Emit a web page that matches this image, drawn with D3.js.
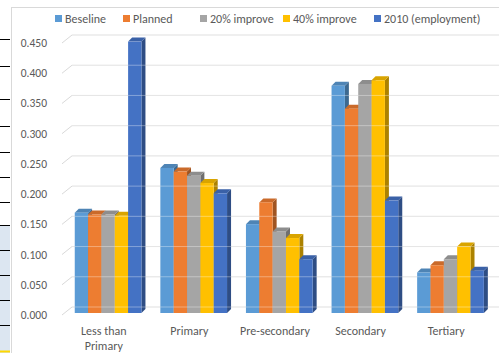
<!DOCTYPE html>
<html>
<head>
<meta charset="utf-8">
<script src="https://cdn.jsdelivr.net/npm/d3@7"></script>
<style>
  body { margin: 0; background: #fff; }
  svg { display: block; font-family: Calibri, Carlito, Lato, sans-serif; }
</style>
</head>
<body>
<svg id="chart" width="499" height="353"></svg>
<script>
var categories = ['Less than Primary', 'Primary', 'Pre-secondary', 'Secondary', 'Tertiary'];
var series_names = ['Beseline', 'Planned', '20% improve', '40% improve', '2010 (employment)'];
var series_colors = ['#5b9bd5', '#ed7d31', '#a5a5a5', '#ffc000', '#4472c4'];

var baseline    = [0.166, 0.240, 0.147, 0.376, 0.067];
var planned     = [0.163, 0.234, 0.183, 0.338, 0.079];
var improve_20  = [0.163, 0.227, 0.135, 0.379, 0.089];
var improve_40  = [0.161, 0.215, 0.124, 0.385, 0.110];
var employment  = [0.449, 0.198, 0.089, 0.186, 0.070];

var y_ticks = [0, 0.05, 0.1, 0.15, 0.2, 0.25, 0.3, 0.35, 0.4, 0.45];
var series_values = [baseline, planned, improve_20, improve_40, employment];

var svg = d3.select('#chart');

// bit of the spreadsheet showing at the left edge
var sheet = svg.append('g');
sheet.append('rect').attr('x', 0).attr('y', 225).attr('width', 10).attr('height', 128).attr('fill', '#dce6f1');
[39, 66, 99, 126, 152, 177, 202, 225, 250, 275, 300, 325].forEach(function(y) {
    sheet.append('line').attr('x1', 0).attr('x2', 10).attr('y1', y + 0.5).attr('y2', y + 0.5)
        .attr('stroke', '#000').attr('stroke-width', 1);
});
sheet.append('line').attr('x1', 0).attr('x2', 10).attr('y1', 351.5).attr('y2', 351.5)
    .attr('stroke', '#ffd800').attr('stroke-width', 2);

// chart area
svg.append('rect').attr('x', 11.5).attr('y', 7.5).attr('width', 520).attr('height', 380)
    .attr('fill', '#fff').attr('stroke', '#d9d9d9');

var depth_x = 10, depth_y = 8;      // floor depth
var bar_dx = 4, bar_dy = 4;         // bar side / top depth
var front_y0 = 315;                 // front edge of floor
var bar_y0 = 313;                   // bar front faces sit a little behind

var y = d3.scaleLinear().domain([0, 0.45]).range([front_y0, front_y0 - 272]);
var bar_y = d3.scaleLinear().domain([0, 0.45]).range([bar_y0, bar_y0 - 272]);

var x0 = d3.scaleBand().domain(categories).range([61, 489]).padding(0);
var group_w = 66.7;
var x1 = d3.scaleBand().domain(series_names).range([0, group_w]).padding(0);
var group_shift = 4.3;

// gridlines, drawn in the 3d way: diagonal on the side wall, then across the back wall
var grid = svg.append('g');
y_ticks.forEach(function(t) {
    var yf = y(t);
    grid.append('path')
        .attr('d', 'M62,' + yf + 'L' + (62 + depth_x) + ',' + (yf - depth_y) + 'L505,' + (yf - depth_y))
        .attr('fill', 'none').attr('stroke', '#d9d9d9').attr('stroke-width', 1);
});

// y labels
svg.append('g').selectAll('text')
    .data(y_ticks)
    .enter()
    .append('text')
    .attr('x', 47)
    .attr('y', function(d) { return y(d); })
    .attr('dy', '0.35em')
    .attr('text-anchor', 'end')
    .attr('fill', '#595959')
    .style('font-size', '11.5px')
    .text(function(d) { return d3.format('.3f')(d); });

// bars
var bars = svg.append('g');
categories.forEach(function(cat, ci) {
    var gx = x0(cat) + (x0.bandwidth() - group_w) / 2 + group_shift;
    series_names.forEach(function(name, si) {
        var v = series_values[si][ci];
        var bx = gx + x1(name);
        var bw = x1.bandwidth();
        var top = bar_y(v);
        var bot = bar_y(0);
        var c = d3.color(series_colors[si]);
        var g = bars.append('g');
        // side
        g.append('path')
            .attr('d', 'M' + (bx + bw) + ',' + top + 'L' + (bx + bw + bar_dx) + ',' + (top - bar_dy) +
                'L' + (bx + bw + bar_dx) + ',' + (bot - bar_dy) + 'L' + (bx + bw) + ',' + bot + 'Z')
            .attr('fill', c.darker(1.1));
        // top
        g.append('path')
            .attr('d', 'M' + bx + ',' + top + 'L' + (bx + bar_dx) + ',' + (top - bar_dy) +
                'L' + (bx + bw + bar_dx) + ',' + (top - bar_dy) + 'L' + (bx + bw) + ',' + top + 'Z')
            .attr('fill', c.darker(0.45));
        // front
        g.append('rect')
            .attr('x', bx).attr('y', top)
            .attr('width', bw).attr('height', bot - top)
            .attr('fill', c);
    });
});

// faint gridlines showing through the bars
var ghost = svg.append('g');
y_ticks.forEach(function(t) {
    ghost.append('line')
        .attr('x1', 72).attr('x2', 499)
        .attr('y1', y(t) - depth_y).attr('y2', y(t) - depth_y)
        .attr('stroke', '#ffffff').attr('stroke-opacity', 0.35).attr('stroke-width', 1);
});

// category labels
var cat_lines = {'Less than Primary': ['Less than', 'Primary']};
svg.append('g').selectAll('text')
    .data(categories)
    .enter()
    .append('text')
    .attr('x', function(d) { return x0(d) + x0.bandwidth() / 2; })
    .attr('y', 335)
    .attr('text-anchor', 'middle')
    .attr('fill', '#595959')
    .style('font-size', '12px')
    .each(function(d) {
        var lines = cat_lines[d] || [d];
        var el = d3.select(this);
        lines.forEach(function(l, i) {
            el.append('tspan')
                .attr('x', x0(d) + x0.bandwidth() / 2)
                .attr('dy', i === 0 ? 0 : 15)
                .text(l);
        });
    });

// legend
var legend_x = [55, 123, 200, 283, 374];
var legend = svg.append('g');
series_names.forEach(function(name, i) {
    legend.append('rect')
        .attr('x', legend_x[i]).attr('y', 15)
        .attr('width', 7).attr('height', 7)
        .attr('fill', series_colors[i]);
    legend.append('text')
        .attr('x', legend_x[i] + 10).attr('y', 19)
        .attr('dy', '0.35em')
        .attr('fill', '#595959')
        .style('font-size', '12px')
        .text(name);
});
</script>
</body>
</html>
